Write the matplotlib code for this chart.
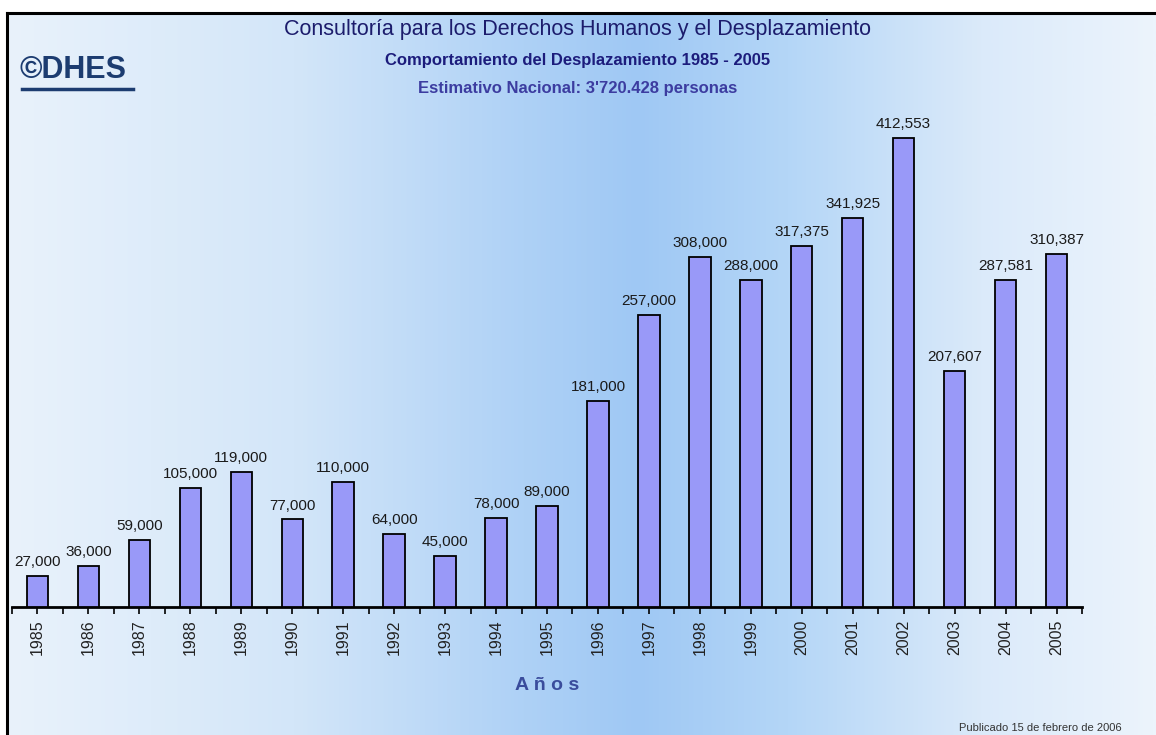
import numpy as np
import matplotlib.pyplot as plt
from matplotlib.colors import LinearSegmentedColormap

years = ["1985", "1986", "1987", "1988", "1989", "1990", "1991", "1992", "1993", "1994", "1995",
         "1996", "1997", "1998", "1999", "2000", "2001", "2002", "2003", "2004", "2005"]
personas = [27000, 36000, 59000, 105000, 119000, 77000, 110000, 64000, 45000, 78000, 89000,
            181000, 257000, 308000, 288000, 317375, 341925, 412553, 207607, 287581, 310387]
etiquetas = ["27,000", "36,000", "59,000", "105,000", "119,000", "77,000", "110,000", "64,000",
             "45,000", "78,000", "89,000", "181,000", "257,000", "308,000", "288,000", "317,375",
             "341,925", "412,553", "207,607", "287,581", "310,387"]

W, H = 1156, 735
fig = plt.figure(figsize=(W / 100, H / 100), dpi=100)
fig.patch.set_facecolor("white")

# fondo degradado (claro - azul - claro)
bg = fig.add_axes([7 / W, 0, 1 - 7 / W, (H - 13) / H])
bg.set_axis_off()
cmap = LinearSegmentedColormap.from_list(
    "fondo",
    [(0.0, "#e9f2fb"), (0.25, "#d3e6f9"), (0.45, "#aed1f6"), (0.55, "#9fc8f4"),
     (0.68, "#b4d6f7"), (0.85, "#dbeafa"), (1.0, "#ecf4fc")], N=256)
grad = np.linspace(0, 1, 512).reshape(1, -1)
bg.imshow(grad, aspect="auto", cmap=cmap, extent=[0, 1, 0, 1])
bg.set_xlim(0, 1)
bg.set_ylim(0, 1)
# marco
fig.add_artist(plt.Line2D([7 / W, 1], [(H - 13) / H] * 2, color="black", lw=2.2))
fig.add_artist(plt.Line2D([7 / W] * 2, [0, (H - 13) / H], color="black", lw=2.2))

ax = fig.add_axes([12 / W, (H - 607) / H, 1070 / W, (607 - 100) / H])
ax.set_facecolor("none")
x = np.arange(len(years))
ax.bar(x, personas, width=0.42, color="#9999f8", edgecolor="black", linewidth=1.3, zorder=3)
for xi, v, t in zip(x, personas, etiquetas):
    ax.annotate(t, (xi, v), xytext=(0, 5), textcoords="offset points", ha="center", va="bottom",
                fontsize=11, color="#1a1a1a", family="Liberation Sans")

ax.set_xlim(-0.5, len(years) - 0.5)
ax.set_ylim(0, 446000)
for s in ["top", "right", "left"]:
    ax.spines[s].set_visible(False)
ax.spines["bottom"].set_linewidth(2)
ax.set_yticks([])
ax.set_xticks(x)
ax.set_xticklabels(years, rotation=90, fontsize=11.5, family="Liberation Sans", color="#222222")
ax.set_xticks(np.arange(-0.5, len(years)), minor=True)
ax.tick_params(axis="x", which="both", length=5, width=1.2, direction="out", pad=4)

ax.set_xlabel("A ñ o s", fontsize=14, fontweight="bold", color="#3a4c9c", labelpad=16,
              family="Liberation Sans")

fig.text(0.5, 1 - 29 / H, "Consultoría para los Derechos Humanos y el Desplazamiento", ha="center", va="center",
         fontsize=15.5, color="#1c1c6c", family="Liberation Sans")
fig.text(0.5, 1 - 60 / H, "Comportamiento del Desplazamiento 1985 - 2005", ha="center", va="center",
         fontsize=12, fontweight="bold", color="#1c1c7c", family="Liberation Sans")
fig.text(0.5, 1 - 88 / H, "Estimativo Nacional: 3'720.428 personas", ha="center", va="center",
         fontsize=12, fontweight="bold", color="#3c3ca0", family="Liberation Sans")

# logo
fig.text(20 / W, 1 - 70 / H, "©DHES", ha="left", va="center", fontsize=22, fontweight="bold",
         color="#1c3c70", family="Liberation Sans")
fig.add_artist(plt.Line2D([22 / W, 133 / W], [1 - 89 / H] * 2, color="#1c3c70", lw=2.5))

fig.text(1040 / W, 1 - 728 / H, "Publicado 15 de febrero de 2006", ha="center", va="center",
         fontsize=8, color="#333333", family="Liberation Sans")

fig.savefig("out.png", dpi=100)
